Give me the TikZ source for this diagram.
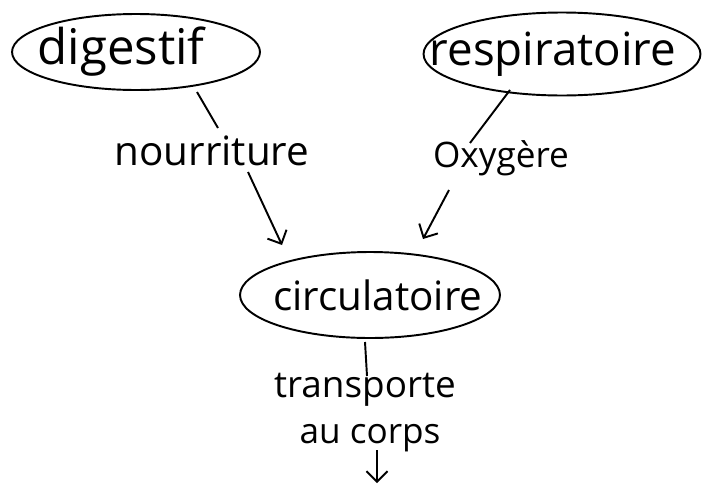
\documentclass[tikz,border=0pt]{standalone}
\usepackage{fontspec}
\setmainfont{Open Sans}
\usetikzlibrary{shapes.geometric,arrows.meta,calc}
\tikzset{
  sys/.style={ellipse,draw,line width=1.1pt,inner sep=0pt},
  lbl/.style={anchor=base,inner sep=0pt},
  conn/.style={line width=1.1pt},
  arr/.style={line width=1.1pt,-{Straight Barb[length=6pt,width=12pt]}}
}
\begin{document}
\begin{tikzpicture}[x=0.02cm,y=-0.02cm]
\useasboundingbox[fill=white] (0,0) rectangle (705,487);
% ellipses
\node[sys,minimum width=4.96cm,minimum height=1.52cm] (dig) at (136,52)
  {\makebox[0pt]{\fontsize{28}{32}\selectfont\hspace{-0.6cm}digestif}};
\node[sys,minimum width=5.54cm,minimum height=1.66cm] (resp) at (562,54)
  {\makebox[0pt]{\fontsize{26}{30}\selectfont\hspace{-0.36cm}respiratoire}};
\node[sys,minimum width=5.2cm,minimum height=1.72cm] (circ) at (370,295)
  {\makebox[0pt]{\fontsize{23}{27}\selectfont\hspace{0.32cm}circulatoire}};
% labels
\node[lbl] (nour) at (212,165) {\fontsize{23}{27}\selectfont nourriture};
\node[lbl] (oxy) at (501,167) {\fontsize{20}{24}\selectfont Oxygère};
\node[lbl] (trans) at (365,397) {\fontsize{21}{25}\selectfont transporte};
\node[lbl] (corps) at (370,443) {\fontsize{20}{24}\selectfont au corps};
\coordinate (out) at ($(corps.base)+(7,40)$);
% connectors
\draw[conn] ($(dig.center)+(61,40)$) -- ($(nour.base)+(6,-37)$);
\draw[arr] ($(nour.base)+(36,7)$) -- ($(circ.center)+(-88,-50)$);
\draw[conn] ($(resp.center)+(-52,36)$) -- ($(oxy.base)+(-31,-24)$);
\draw[arr] ($(oxy.base)+(-52,23)$) -- ($(circ.center)+(53,-56)$);
\draw[conn] ($(circ.center)+(-5,47)$) -- ($(trans.base)+(2,-21)$);
\draw[arr] ($(corps.base)+(7,7)$) -- (out);
\end{tikzpicture}
\end{document}
